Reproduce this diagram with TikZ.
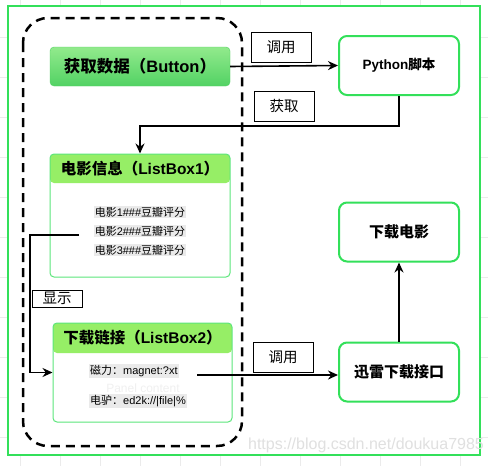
\documentclass[tikz,border=0pt]{standalone}
\usepackage{fontspec}
\setmainfont{Liberation Sans}
\newfontfamily\cjk{Noto Sans CJK SC}
\usepackage{xcolor}
\usetikzlibrary{arrows.meta,calc,positioning}
\definecolor{framegreen}{RGB}{51,224,90}
\definecolor{btntop}{RGB}{146,234,140}
\definecolor{btnbot}{RGB}{82,210,100}
\definecolor{hdrgreen}{RGB}{150,238,102}
\definecolor{itemgray}{RGB}{234,234,234}
\tikzset{
	btnbox/.style={rectangle, rounded corners=4pt, draw=btnbot, top color=btntop, bottom color=btnbot,
			minimum width=180pt, minimum height=39pt, font=\fontsize{16.5}{18}\selectfont\bfseries},
	appbox/.style={rectangle, rounded corners=8pt, draw=framegreen, line width=2pt, fill=white,
			minimum width=120pt, minimum height=59pt, font=\fontsize{15}{17}\selectfont\bfseries\cjk},
	listbox/.style={rectangle, rounded corners=4pt, draw=framegreen!80, line width=1pt, fill=white,
			path picture={\fill[hdrgreen] (path picture bounding box.north west) rectangle
					([yshift=-#1]path picture bounding box.north east);}},
	listtitle/.style={font=\fontsize{15.5}{17}\selectfont\bfseries},
	item/.style={fill=itemgray, inner sep=1pt, font=\fontsize{11}{12}\selectfont},
	tag/.style={draw, thin, fill=white, minimum width=60pt, minimum height=30pt, inner sep=0pt,
			font=\fontsize{14.5}{15}\selectfont\cjk},
	flow/.style={line width=1.6pt, -{Stealth[length=10pt,width=9pt]}}
}

\begin{document}
\begin{tikzpicture}[x=1pt, y=-1pt]
	\useasboundingbox (0,0) rectangle (488,466);

	% background grid and frame
	\foreach \gx in {20,60,...,460} \draw[black!8] (\gx,0) -- (\gx,466);
	\foreach \gy in {37,77,...,437} \draw[black!8] (0,\gy) -- (488,\gy);
	\draw[framegreen, line width=2pt, fill=white] (8,6) rectangle (480,455);
	\draw[line width=2.5pt, dash pattern=on 9pt off 6pt, rounded corners=25pt] (23,18) rectangle (242,446);

	% left column
	\node[btnbox] (fetch) at (140,66.5) {{\cjk 获取数据（}Button{\cjk ）}};

	\node[listbox=29pt, minimum width=180pt, minimum height=123pt] (movies) at (140,215.5) {};
	\node[listtitle] (moviestitle) at (140,168.5) {{\cjk 电影信息（}ListBox1{\cjk ）}};
	\node[item] (movieA) at (140,212) {{\cjk 电影}1\#\#\#{\cjk 豆瓣评分}};
	\node[item] (movieB) at (140,231) {{\cjk 电影}2\#\#\#{\cjk 豆瓣评分}};
	\node[item] (movieC) at (140,250) {{\cjk 电影}3\#\#\#{\cjk 豆瓣评分}};

	\node[listbox=30pt, minimum width=179pt, minimum height=99pt] (links) at (142.5,372.5) {};
	\node[listtitle] (linkstitle) at (142.5,338) {{\cjk 下载链接（}ListBox2{\cjk ）}};
	\node[item, anchor=west] (magnet) at (89,371) {{\cjk 磁力：}magnet:?xt};
	\node[text=black!6, font=\fontsize{12}{13}\selectfont] (panel) at (143,388) {Panel content};
	\node[item, anchor=west] (ed2k) at (89,401) {{\cjk 电驴：}ed2k://|file|\%};

	% right column
	\node[appbox, font=\fontsize{13.5}{15}\selectfont\bfseries] (script) at (399,65.5) {Python{\cjk 脚本}};
	\node[appbox] (download) at (399,232) {下载电影};
	\node[appbox] (thunder) at (399,372) {迅雷下载接口};

	% connectors
	\draw[flow] (fetch.east) -- (script.west);
	\node[tag] (callA) at (281,47) {调用};

	\draw[flow] (script.south) -- ++(0,30) -| (movies.north);
	\node[tag] (getA) at (284,106.5) {获取};

	\coordinate (showfrom) at (79,235);
	\draw[flow] (showfrom) -- ++(-49,0) |- (links.west);
	\node[tag, minimum width=50pt, minimum height=17pt] (showA) at (57,298.5) {显示};

	\coordinate (linkfrom) at (197,375);
	\draw[flow] (linkfrom) -- (linkfrom -| thunder.west);
	\node[tag] (callB) at (283,357.5) {调用};

	\draw[flow] (thunder.north) -- (download.south);

	\node[text=black!12, font=\fontsize{16}{17}\selectfont] (mark) at (366,445) {https://blog.csdn.net/doukua7985};
\end{tikzpicture}
\end{document}
